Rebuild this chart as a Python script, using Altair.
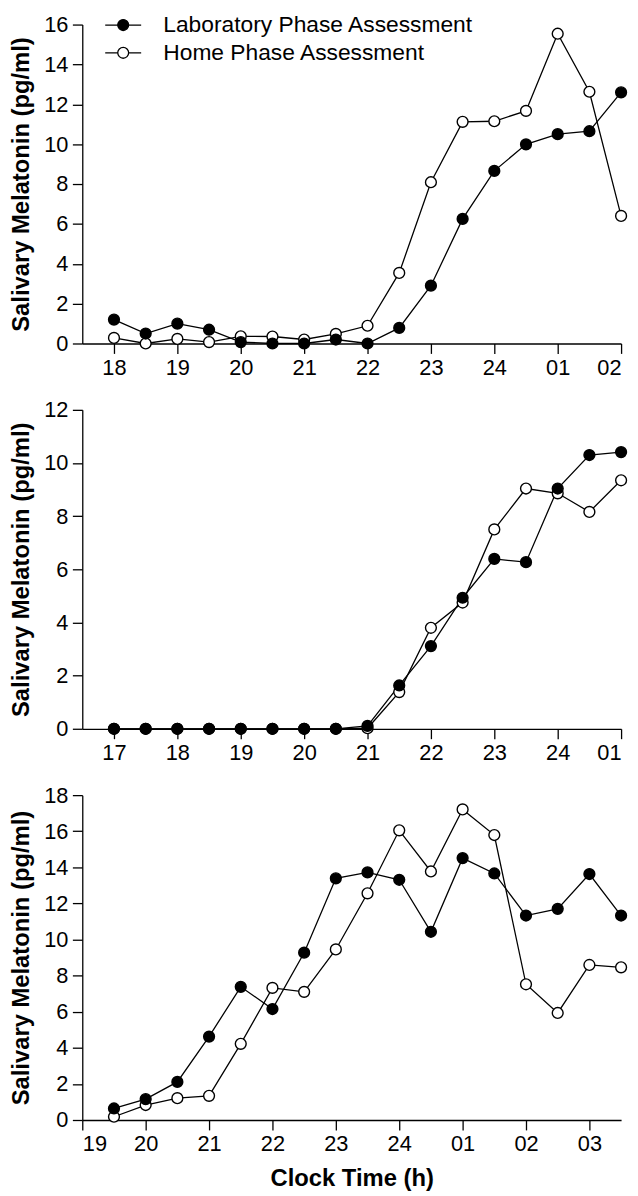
import altair as alt
import pandas as pd

LAB = "Laboratory Phase Assessment"
HOME = "Home Phase Assessment"

# Panel 1
times_1 = [18.0, 18.5, 19.0, 19.5, 20.0, 20.5, 21.0, 21.5, 22.0, 22.5, 23.0, 23.5, 24.0, 24.5, 25.0, 25.5, 26.0]
lab_1 = [1.2, 0.5, 1.0, 0.69, 0.07, 0.0, 0.0, 0.2, 0.0, 0.78, 2.9, 6.25, 8.66, 9.99, 10.5, 10.65, 12.6]
home_1 = [0.28, 0.0, 0.23, 0.07, 0.36, 0.35, 0.2, 0.48, 0.89, 3.54, 8.09, 11.12, 11.15, 11.67, 15.54, 12.63, 6.4]
ticks_1 = [18, 19, 20, 21, 22, 23, 24, 25, 26]

# Panel 2
times_2 = [17.0, 17.5, 18.0, 18.5, 19.0, 19.5, 20.0, 20.5, 21.0, 21.5, 22.0, 22.5, 23.0, 23.5, 24.0, 24.5, 25.0]
lab_2 = [0.0, 0.0, 0.0, 0.0, 0.0, 0.0, 0.0, 0.0, 0.11, 1.63, 3.11, 4.93, 6.39, 6.27, 9.04, 10.3, 10.41]
home_2 = [0.0, 0.0, 0.0, 0.0, 0.0, 0.0, 0.0, 0.0, 0.02, 1.38, 3.8, 4.75, 7.5, 9.04, 8.86, 8.16, 9.35]
ticks_2 = [17, 18, 19, 20, 21, 22, 23, 24, 25]

# Panel 3
times_3 = [19.5, 20.0, 20.5, 21.0, 21.5, 22.0, 22.5, 23.0, 23.5, 24.0, 24.5, 25.0, 25.5, 26.0, 26.5, 27.0, 27.5]
lab_3 = [0.64, 1.16, 2.11, 4.62, 7.38, 6.15, 9.27, 13.39, 13.72, 13.31, 10.43, 14.51, 13.66, 11.33, 11.7, 13.63, 11.33]
home_3 = [0.18, 0.83, 1.21, 1.34, 4.22, 7.32, 7.1, 9.45, 12.56, 16.05, 13.77, 17.21, 15.79, 7.52, 5.93, 8.59, 8.46]
ticks_3 = [19, 20, 21, 22, 23, 24, 25, 26, 27]

FONT = "Liberation Sans"
LEGEND_PATH = "M-3.3,0L-1,0M1,0L3.3,0M1,0A1,1,0,1,1,-1,0A1,1,0,1,1,1,0Z"


def make_df(times, lab, home):
    rows = []
    for t, v in zip(times, home):
        rows.append({"time": t, "value": v, "series": HOME})
    for t, v in zip(times, lab):
        rows.append({"time": t, "value": v, "series": LAB})
    return pd.DataFrame(rows)


def panel(df, xdom, xticks, ymax, height, show_legend, show_xtitle):
    x = alt.X(
        "time:Q",
        scale=alt.Scale(domain=xdom, nice=False, zero=False),
        axis=alt.Axis(
            values=xticks,
            labelExpr="datum.value >= 25 ? '0' + (datum.value - 24) : '' + datum.value",
            title="Clock Time (h)" if show_xtitle else None,
            tickSize=10,
            labelPadding=4,
            titlePadding=12,
        ),
    )
    y = alt.Y(
        "value:Q",
        scale=alt.Scale(domain=[0, ymax], nice=False),
        axis=alt.Axis(
            values=list(range(0, ymax + 1, 2)),
            format="d",
            title="Salivary Melatonin (pg/ml)",
            tickSize=10,
            labelPadding=4.5,
            titlePadding=10,
        ),
    )
    if show_legend:
        legend = alt.Legend(
            title=None,
            orient="none",
            legendX=29.8,
            legendY=-11,
            symbolType=LEGEND_PATH,
            symbolSize=121,
            symbolStrokeColor="black",
            symbolStrokeWidth=1.3,
            symbolOpacity=1,
            labelFontSize=23,
            labelFont=FONT,
            labelColor="black",
            labelOffset=29,
            labelLimit=600,
            rowPadding=4,
            padding=0,
        )
    else:
        legend = None
    line = alt.Chart(df).mark_line(color="black", strokeWidth=1.3).encode(
        x=x, y=y, detail="series:N"
    )
    pts = alt.Chart(df).mark_point(
        shape="circle", size=120, stroke="black", strokeWidth=1.4,
        opacity=1, fillOpacity=1
    ).encode(
        x=x,
        y=y,
        fill=alt.Fill(
            "series:N",
            scale=alt.Scale(domain=[LAB, HOME], range=["black", "white"]),
            legend=legend,
        ),
    )
    return alt.layer(line, pts).properties(width=544, height=height)


p1 = panel(make_df(times_1, lab_1, home_1), [17.5, 26], ticks_1, 16, 322, True, False)
p2 = panel(make_df(times_2, lab_2, home_2), [16.5, 25], ticks_2, 12, 322, False, False)
p3 = panel(make_df(times_3, lab_3, home_3), [19, 27.5], ticks_3, 18, 328, False, True)

chart = (
    alt.vconcat(p1, p2, p3, spacing=21)
    .resolve_scale(fill="independent")
    .resolve_legend(fill="independent")
    .properties(padding={"left": 2, "top": 0, "right": 0, "bottom": 0})
    .configure_view(stroke=None)
    .configure_axis(
        grid=False,
        domainColor="black",
        tickColor="black",
        labelColor="black",
        titleColor="black",
        labelFont=FONT,
        titleFont=FONT,
        labelFontSize=22,
        titleFontSize=24,
        titleFontWeight="bold",
        domainWidth=1.3,
        tickWidth=1.3,
    )
)

chart.save("out.html", embed_options={"renderer": "svg", "actions": False})
